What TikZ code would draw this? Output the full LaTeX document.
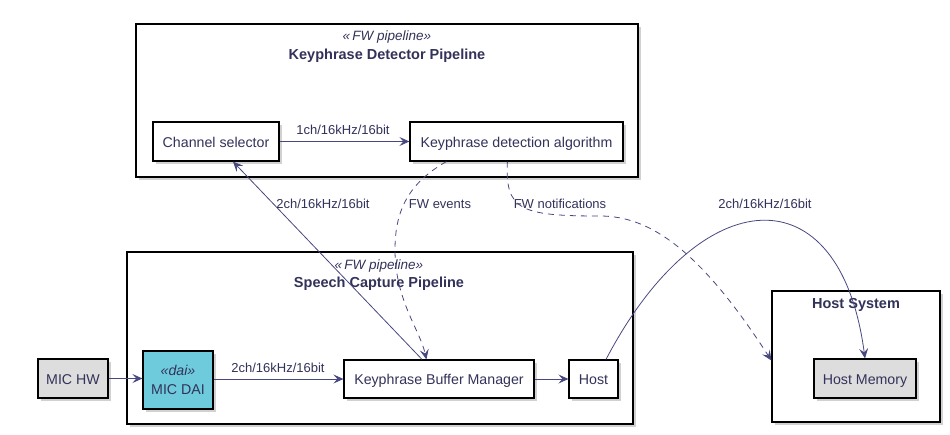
\documentclass[tikz,border=0pt]{standalone}
\usepackage{fontspec}
\setmainfont{Liberation Sans}
\usetikzlibrary{arrows.meta,calc,shadows}
\definecolor{arrowcol}{RGB}{72,72,128}
\definecolor{txtcol}{RGB}{50,50,90}
\definecolor{daicol}{RGB}{110,203,220}
\definecolor{graycol}{RGB}{221,221,221}
\tikzset{
  shad/.style={drop shadow={shadow xshift=3pt,shadow yshift=-3pt,fill=black!40,opacity=.45}},
  comp/.style={draw=black,line width=1.2pt,fill=white,shad,inner sep=0pt,
     font=\fontsize{14.2}{16.5}\selectfont,text=txtcol,align=center,
     text height=13pt,text depth=2pt},
  cont/.style={draw=black,line width=1.2pt,fill=white,shad,inner sep=0pt},
  ster/.style={font=\fontsize{13.5}{15}\selectfont\itshape,text=txtcol},
  ttl/.style={font=\fontsize{14.5}{16}\selectfont\bfseries,text=txtcol},
  lbl/.style={font=\fontsize{13}{15}\selectfont,text=txtcol,inner sep=1pt},
  arr/.style={draw=arrowcol,line width=0.8pt,-{Stealth[length=10pt,width=9pt,inset=4pt]}},
  darr/.style={arr,dash pattern=on 6pt off 5pt},
}
\begin{document}
\begin{tikzpicture}[x=1pt,y=-1pt]
\useasboundingbox (0,0) rectangle (950,434);
% containers
\node[cont,minimum width=502pt,minimum height=153pt] (kdp) at (387,100.5) {};
\node[cont,minimum width=506pt,minimum height=172pt] (scp) at (380,338) {};
\node[cont,minimum width=168pt,minimum height=131pt] (hs) at (856,356.5) {};
\node[ster] (kdps) at (387,37) {«\,FW pipeline»};
\node[ttl] (kdpt) at (387,56) {Keyphrase Detector Pipeline};
\node[ster] (scps) at (379,266) {«\,FW pipeline»};
\node[ttl] (scpt) at (379,284) {Speech Capture Pipeline};
\node[ttl] (hst) at (856,305) {Host System};
% components
\node[comp,minimum width=126pt,minimum height=39pt] (cs) at (216,141.5) {Channel selector};
\node[comp,minimum width=213pt,minimum height=39pt] (kda) at (516.5,141.5) {Keyphrase detection algorithm};
\node[comp,minimum width=190pt,minimum height=38pt] (kbm) at (439,379) {Keyphrase Buffer Manager};
\node[comp,minimum width=49pt,minimum height=38pt] (host) at (593.5,379) {Host};
\node[comp,fill=daicol,minimum width=70pt,minimum height=58pt,
      font=\fontsize{14.2}{19.5}\selectfont,text height={},text depth={}] (mdai) at (178,380) {{\itshape «dai»}\\MIC DAI};
\node[comp,fill=graycol,minimum width=70pt,minimum height=39pt] (mhw) at (73,378.5) {MIC HW};
\node[comp,fill=graycol,minimum width=102pt,minimum height=39pt] (hmem) at (865,378.5) {Host Memory};
% connectors
\draw[arr] (mhw.east) -- (mhw.east -| mdai.west);
\draw[arr] (mdai.east |- kbm.west) -- (kbm.west);
\draw[arr] (kbm.east) -- (host.west);
\draw[arr] (cs.east) -- (kda.west);
\draw[arr] ($(kbm.north)+(-17,0)$) -- ($(cs.south)+(17,0)$);
\draw[darr] ($(kda.south west)+(37,0)$) .. controls (405,185) and (395,215) .. (395,250)
   .. controls (395,300) and (420,330) .. ($(kbm.north west)+(83,0)$);
\draw[darr] ($(kda.south west)+(98,0)$) .. controls (505,210) and (520,216) .. (600,216)
   .. controls (650,216) and (700,250) .. ($(hs.west)+(0,4)$);
\draw[arr] ($(host.north)+(12.5,0)$) .. controls (700,180) and (840,170) .. (hmem.north);
% labels
\node[lbl] (l1) at (343,130) {1ch/16kHz/16bit};
\node[lbl] (l2) at (278,368) {2ch/16kHz/16bit};
\node[lbl] (l3) at (323,204) {2ch/16kHz/16bit};
\node[lbl] (l4) at (440,204) {FW events};
\node[lbl] (l5) at (560,204) {FW notifications};
\node[lbl] (l6) at (765,204) {2ch/16kHz/16bit};
\end{tikzpicture}
\end{document}
